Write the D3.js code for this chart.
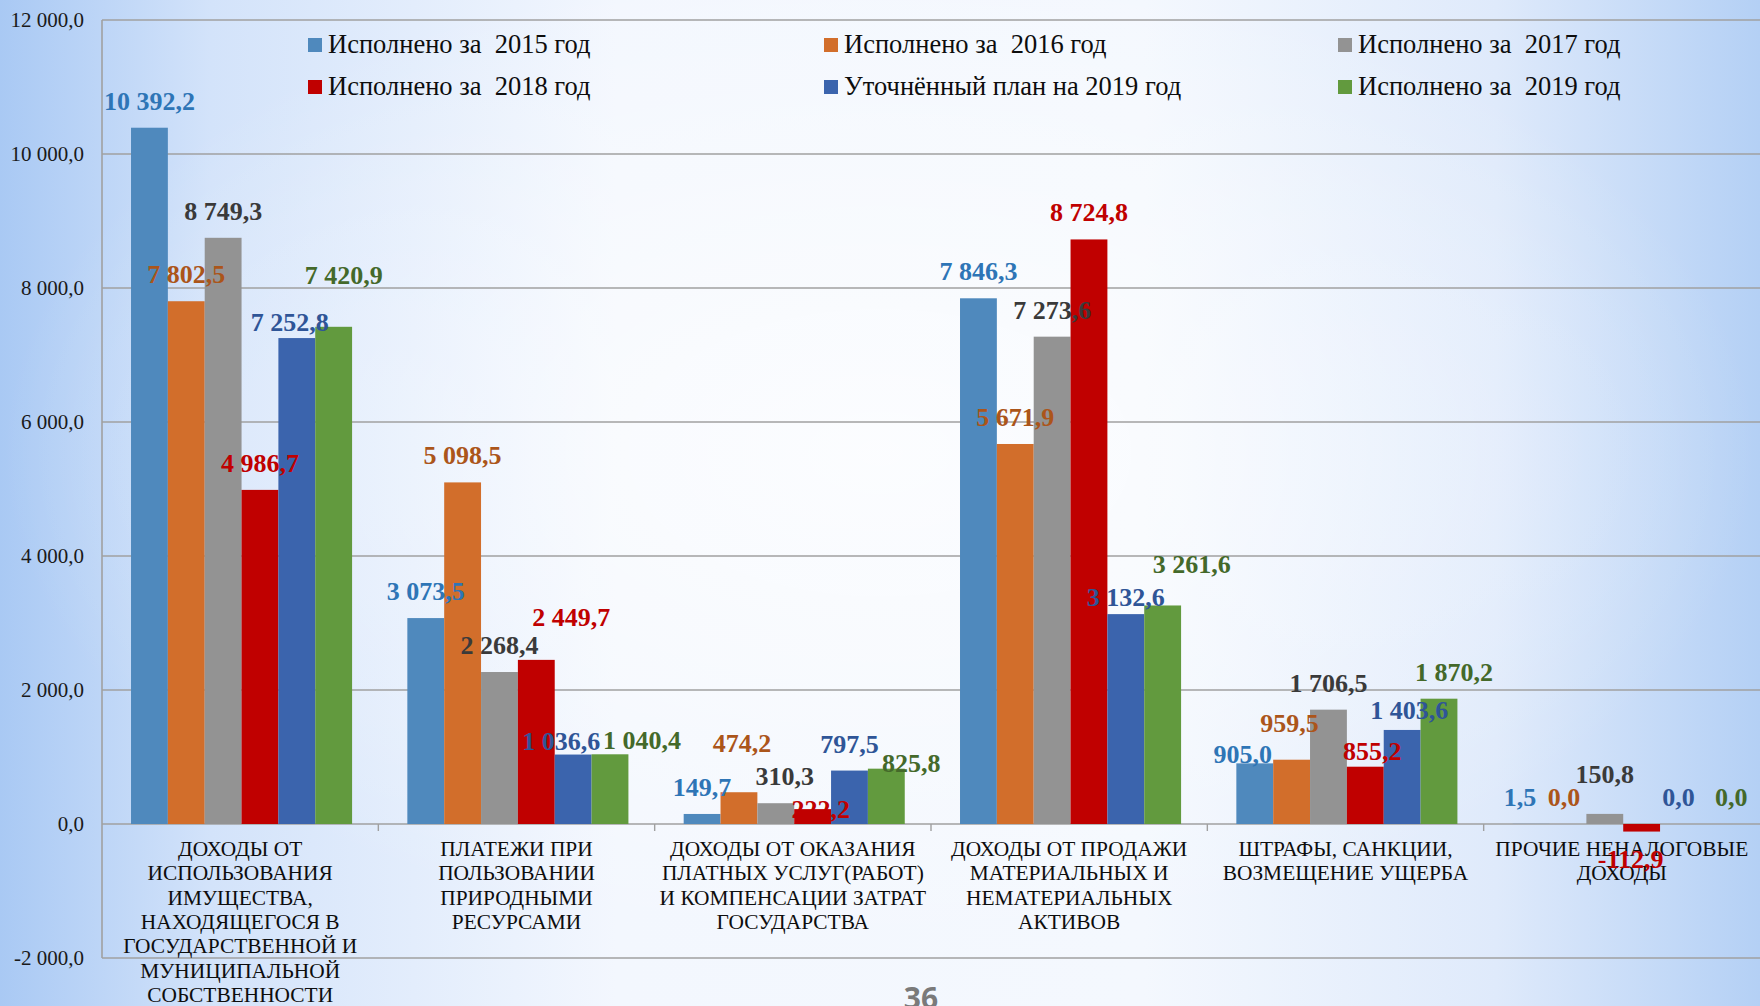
<!DOCTYPE html>
<html>
<head>
<meta charset="utf-8">
<script src="https://cdn.jsdelivr.net/npm/d3@7"></script>
<style>
  html, body { margin: 0; padding: 0; overflow: hidden; }
  svg { display: block; }
</style>
</head>
<body>
<div id="CHART"></div>
<script>
// ------------------------- data ------------------------//

var categories = [
  ["ДОХОДЫ ОТ", "ИСПОЛЬЗОВАНИЯ", "ИМУЩЕСТВА,", "НАХОДЯЩЕГОСЯ В", "ГОСУДАРСТВЕННОЙ И", "МУНИЦИПАЛЬНОЙ", "СОБСТВЕННОСТИ"],
  ["ПЛАТЕЖИ ПРИ", "ПОЛЬЗОВАНИИ", "ПРИРОДНЫМИ", "РЕСУРСАМИ"],
  ["ДОХОДЫ ОТ ОКАЗАНИЯ", "ПЛАТНЫХ УСЛУГ(РАБОТ)", "И КОМПЕНСАЦИИ ЗАТРАТ", "ГОСУДАРСТВА"],
  ["ДОХОДЫ ОТ ПРОДАЖИ", "МАТЕРИАЛЬНЫХ И", "НЕМАТЕРИАЛЬНЫХ", "АКТИВОВ"],
  ["ШТРАФЫ, САНКЦИИ,", "ВОЗМЕЩЕНИЕ УЩЕРБА"],
  ["ПРОЧИЕ НЕНАЛОГОВЫЕ", "ДОХОДЫ"]
];

var seriesNames = [
  "Исполнено за  2015 год",
  "Исполнено за  2016 год",
  "Исполнено за  2017 год",
  "Исполнено за  2018 год",
  "Уточнённый план на 2019 год",
  "Исполнено за  2019 год"
];

var isp2015 = [10392.2, 3073.5, 149.7, 7846.3, 905.0, 1.5];
var isp2016 = [7802.5, 5098.5, 474.2, 5671.9, 959.5, 0.0];
var isp2017 = [8749.3, 2268.4, 310.3, 7273.6, 1706.5, 150.8];
var isp2018 = [4986.7, 2449.7, 222.2, 8724.8, 855.2, -112.9];
var plan2019 = [7252.8, 1036.6, 797.5, 3132.6, 1403.6, 0.0];
var isp2019 = [7420.9, 1040.4, 825.8, 3261.6, 1870.2, 0.0];

var yTicks = [-2000, 0, 2000, 4000, 6000, 8000, 10000, 12000];

var pageNumber = "36";

// ------------------------- styles ------------------------//

var barColors = ["#4f89bd", "#d26e2b", "#939393", "#c00000", "#3b64ad", "#629a3e"];
var labelColors = ["#2e75b6", "#ab551a", "#3a3a3a", "#c00000", "#2f5597", "#44692a"];

// hand-moved data labels in the original slide: "series,category" -> [dx, dy]
var labelNudge = {
  "4,0": [-7, 11], "5,0": [10, -25],
  "3,1": [35, -16], "4,1": [-12, 13], "5,1": [32, 13],
  "1,2": [3, -22], "2,2": [9, 0], "3,2": [8, 27], "5,2": [25, 21],
  "4,3": [0, 10], "5,3": [29, -14],
  "0,4": [-12, 18], "1,4": [-2, -10], "3,4": [7, 11], "4,4": [7, 7], "5,4": [15, 0],
  "0,5": [-11, 0], "1,5": [-4, 0], "2,5": [0, -13], "3,5": [-11, 0], "5,5": [16, 0]
};

var width = 1760,
  height = 1006;

var svg = d3.select("#CHART").append("svg")
  .attr("width", width)
  .attr("height", height);

// background
var defs = svg.append("defs");
var bg = defs.append("linearGradient").attr("id", "bg")
  .attr("x1", 0).attr("y1", 0).attr("x2", 1).attr("y2", 0);
bg.append("stop").attr("offset", "0%").attr("stop-color", "#a9c9f4");
bg.append("stop").attr("offset", "12%").attr("stop-color", "#d3e3fa");
bg.append("stop").attr("offset", "35%").attr("stop-color", "#f3f7fe");
bg.append("stop").attr("offset", "65%").attr("stop-color", "#f4f8fe");
bg.append("stop").attr("offset", "85%").attr("stop-color", "#dfeafb");
bg.append("stop").attr("offset", "100%").attr("stop-color", "#b4d0f5");

var glow = defs.append("radialGradient").attr("id", "glow")
  .attr("cx", 0.5).attr("cy", 0.45).attr("r", 0.5);
glow.append("stop").attr("offset", "0%").attr("stop-color", "#ffffff").attr("stop-opacity", 0.7);
glow.append("stop").attr("offset", "100%").attr("stop-color", "#ffffff").attr("stop-opacity", 0);

svg.append("rect").attr("width", width).attr("height", height).attr("fill", "url(#bg)");
svg.append("rect").attr("width", width).attr("height", height).attr("fill", "url(#glow)");

// ------------------------- scales ------------------------//

var series = [isp2015, isp2016, isp2017, isp2018, plan2019, isp2019];

var plotLeft = 102, plotRight = 1760;

var y = d3.scaleLinear()
  .domain([-2000, 12000])
  .range([958, 20]);

var x0 = d3.scaleBand()
  .domain(d3.range(categories.length))
  .range([plotLeft, plotRight])
  .padding(0);

var bw = x0.bandwidth();

var x1 = d3.scaleBand()
  .domain(d3.range(series.length))
  .range([bw * 0.105, bw * 0.905])
  .padding(0);

var fmt = function (v) {
  var s = d3.format(",.1f")(v).replace(/,/g, " ").replace(".", ",");
  return s.replace("−", "-");
};

// ------------------------- grid & axes ------------------------//

svg.append("g")
  .selectAll("line")
  .data(yTicks)
  .enter()
  .append("line")
  .attr("x1", plotLeft)
  .attr("x2", plotRight)
  .attr("y1", function (d) { return y(d); })
  .attr("y2", function (d) { return y(d); })
  .attr("stroke", "#a0a0a0")
  .attr("stroke-width", 1.6);

svg.append("line")
  .attr("x1", plotLeft).attr("x2", plotLeft)
  .attr("y1", y(12000)).attr("y2", y(-2000))
  .attr("stroke", "#a0a0a0")
  .attr("stroke-width", 1.6);

svg.append("g")
  .selectAll("text")
  .data(yTicks)
  .enter()
  .append("text")
  .attr("x", 84)
  .attr("y", function (d) { return y(d); })
  .attr("dy", "0.35em")
  .attr("text-anchor", "end")
  .attr("font-family", "'Liberation Serif', 'DejaVu Serif', serif")
  .attr("font-size", 21)
  .attr("fill", "#1a1a1a")
  .text(function (d) { return fmt(d); });

// category tick marks
svg.append("g")
  .selectAll("line")
  .data(d3.range(1, categories.length))
  .enter()
  .append("line")
  .attr("x1", function (d) { return x0(d); })
  .attr("x2", function (d) { return x0(d); })
  .attr("y1", y(0))
  .attr("y2", y(0) + 7)
  .attr("stroke", "#a0a0a0")
  .attr("stroke-width", 1.4);

// category labels
var catText = svg.append("g")
  .selectAll("text")
  .data(categories)
  .enter()
  .append("text")
  .attr("text-anchor", "middle")
  .attr("font-family", "'Liberation Serif', 'DejaVu Serif', serif")
  .attr("font-size", 21.4)
  .attr("fill", "#0d0d0d");

catText.selectAll("tspan")
  .data(function (d, i) { return d.map(function (t) { return { t: t, i: i }; }); })
  .enter()
  .append("tspan")
  .attr("x", function (d) { return x0(d.i) + bw / 2; })
  .attr("y", function (d, j) { return 856 + j * 24.3; })
  .text(function (d) { return d.t; });

// ------------------------- bars ------------------------//

var groups = svg.append("g")
  .selectAll("g")
  .data(categories)
  .enter()
  .append("g")
  .attr("transform", function (d, i) { return "translate(" + x0(i) + ",0)"; });

var cells = function (d, i) {
  return series.map(function (s, k) { return { k: k, c: i, v: s[i] }; });
};

groups.selectAll("rect")
  .data(cells)
  .enter()
  .append("rect")
  .attr("x", function (d) { return x1(d.k); })
  .attr("width", x1.bandwidth())
  .attr("y", function (d) { return y(Math.max(0, d.v)); })
  .attr("height", function (d) { return Math.abs(y(d.v) - y(0)); })
  .attr("fill", function (d) { return barColors[d.k]; });

// data labels
var nudge = function (d) { return labelNudge[d.k + "," + d.c] || [0, 0]; };

groups.selectAll("text")
  .data(cells)
  .enter()
  .append("text")
  .attr("x", function (d) { return x1(d.k) + x1.bandwidth() / 2 + nudge(d)[0]; })
  .attr("y", function (d) { return (d.v < 0 ? y(d.v) + 36 : y(d.v) - 18) + nudge(d)[1]; })
  .attr("text-anchor", "middle")
  .attr("font-family", "'Liberation Serif', 'DejaVu Serif', serif")
  .attr("font-weight", "bold")
  .attr("font-size", 26)
  .attr("fill", function (d) { return labelColors[d.k]; })
  .text(function (d) { return fmt(d.v); });

// ------------------------- legend ------------------------//

var legendCols = [308, 824, 1338],
  legendRows = [45, 87];

var legend = svg.append("g")
  .selectAll("g")
  .data(seriesNames)
  .enter()
  .append("g")
  .attr("transform", function (d, i) {
    return "translate(" + legendCols[i % 3] + "," + legendRows[Math.floor(i / 3)] + ")";
  });

legend.append("rect")
  .attr("x", 0)
  .attr("y", -7)
  .attr("width", 14)
  .attr("height", 14)
  .attr("fill", function (d, i) { return barColors[i]; });

legend.append("text")
  .attr("x", 20)
  .attr("y", 8)
  .attr("font-family", "'Liberation Serif', 'DejaVu Serif', serif")
  .attr("font-size", 26.5)
  .attr("fill", "#0d0d0d")
  .attr("xml:space", "preserve")
  .style("white-space", "pre")
  .text(function (d) { return d; });

// page number
svg.append("text")
  .attr("x", 921)
  .attr("y", 1009)
  .attr("text-anchor", "middle")
  .attr("font-family", "'Open Sans', 'Liberation Sans', sans-serif")
  .attr("font-weight", "bold")
  .attr("font-size", 30)
  .attr("fill", "#7a7a7a")
  .text(pageNumber);
</script>
</body>
</html>
